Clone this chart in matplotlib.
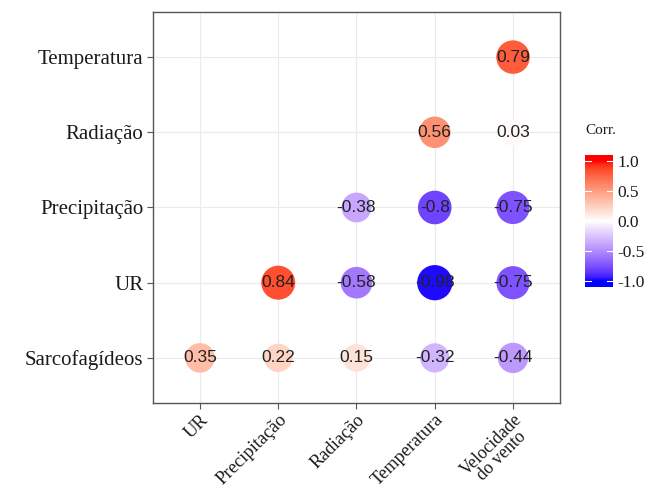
import numpy as np
import matplotlib
matplotlib.use("Agg")
import matplotlib.pyplot as plt
from matplotlib.colors import ListedColormap, Normalize

# Variables and lower-triangle correlation values
x_labels = ["UR", "Precipitação", "Radiação", "Temperatura", "Velocidade\ndo vento"]
y_labels = ["Sarcofagídeos", "UR", "Precipitação", "Radiação", "Temperatura"]

# corr_rows[i][j]: correlation for y_labels[i] vs x_labels[j] (None = not shown)
corr_rows = [
    [0.35, 0.22, 0.15, -0.32, -0.44],
    [None, 0.84, -0.58, -0.98, -0.75],
    [None, None, -0.38, -0.80, -0.75],
    [None, None, None, 0.56, 0.03],
    [None, None, None, None, 0.79],
]


def srgb_to_lab(rgb):
    rgb = np.asarray(rgb, float)
    lin = np.where(rgb <= 0.04045, rgb / 12.92, ((rgb + 0.055) / 1.055) ** 2.4)
    M = np.array([[0.4124, 0.3576, 0.1805],
                  [0.2126, 0.7152, 0.0722],
                  [0.0193, 0.1192, 0.9505]])
    xyz = M @ lin / np.array([0.95047, 1.0, 1.08883])
    f = np.where(xyz > 0.008856, np.cbrt(xyz), 7.787 * xyz + 16 / 116)
    return np.array([116 * f[1] - 16, 500 * (f[0] - f[1]), 200 * (f[1] - f[2])])


def lab_to_srgb(lab):
    L, a, b = lab
    fy = (L + 16) / 116
    fx = fy + a / 500
    fz = fy - b / 200
    f = np.array([fx, fy, fz])
    xyz = np.where(f ** 3 > 0.008856, f ** 3, (f - 16 / 116) / 7.787)
    xyz = xyz * np.array([0.95047, 1.0, 1.08883])
    Minv = np.array([[3.2406, -1.5372, -0.4986],
                     [-0.9689, 1.8758, 0.0415],
                     [0.0557, -0.2040, 1.0570]])
    lin = np.clip(Minv @ xyz, 0, 1)
    rgb = np.where(lin <= 0.0031308, 12.92 * lin, 1.055 * lin ** (1 / 2.4) - 0.055)
    return np.clip(rgb, 0, 1)


# Diverging blue-white-red gradient interpolated in Lab space
lab_blue = srgb_to_lab([0, 0, 1])
lab_white = srgb_to_lab([1, 1, 1])
lab_red = srgb_to_lab([1, 0, 0])
colors = []
for t in np.linspace(-1, 1, 256):
    if t < 0:
        lab = lab_white + (lab_blue - lab_white) * (-t)
    else:
        lab = lab_white + (lab_red - lab_white) * t
    colors.append(lab_to_srgb(lab))
cmap = ListedColormap(colors)
norm = Normalize(-1, 1)

serif = "Liberation Serif"
sans = "Liberation Sans"

fig = plt.figure(figsize=(6.5, 4.91), dpi=100)
ax = fig.add_axes([0.2354, 0.1792, 0.8615 - 0.2354, 0.9756 - 0.1792])

xs, ys, vals = [], [], []
for i, row in enumerate(corr_rows):
    for j, v in enumerate(row):
        if v is None:
            continue
        xs.append(j + 1)
        ys.append(i + 1)
        vals.append(v)
vals = np.array(vals)

# circle diameter (points) grows with |r|
diam = 19.0 + 6.5 * np.abs(vals)
ax.scatter(xs, ys, s=diam ** 2, c=vals, cmap=cmap, norm=norm,
           edgecolors="none", zorder=3)
for x, y, v in zip(xs, ys, vals):
    ax.text(x, y, f"{v:g}", ha="center", va="center", fontsize=12.5,
            family=sans, color="#222222", zorder=4)

ax.set_xlim(0.4, 5.6)
ax.set_ylim(0.4, 5.6)
ax.set_xticks(range(1, 6))
ax.set_yticks(range(1, 6))
ax.set_xticklabels(x_labels, rotation=45, ha="right", va="top",
                   rotation_mode="anchor", family=serif, fontsize=13.3,
                   multialignment="center", color="#1a1a1a",
                   linespacing=0.85)
ax.get_xticklabels()[-1].set_fontsize(12.8)
ax.set_yticklabels(y_labels, family=serif, fontsize=15, color="#1a1a1a")
ax.grid(True, color="#ebebeb", linewidth=0.8, zorder=0)
ax.set_axisbelow(True)
for sp in ax.spines.values():
    sp.set_color("#555555")
    sp.set_linewidth(1.0)
ax.tick_params(axis="both", length=4, color="#555555", width=0.8)
ax.tick_params(axis="x", pad=2)
ax.tick_params(axis="y", pad=3)

# Colour bar legend
cax = fig.add_axes([585 / 650, 1 - 287 / 491, 28 / 650, 132 / 491])
grad = np.linspace(-1.1, 1.1, 256).reshape(-1, 1)
cax.imshow(grad, aspect="auto", cmap=cmap, norm=norm, origin="lower",
           extent=[0, 1, -1.1, 1.1])
cax.set_xlim(0, 1)
cax.set_ylim(-1.1, 1.1)
cax.set_xticks([])
ticks = [-1.0, -0.5, 0.0, 0.5, 1.0]
cax.set_yticks(ticks)
cax.yaxis.tick_right()
cax.set_yticklabels([f"{t:.1f}" for t in ticks], family=serif, fontsize=12.5,
                    color="#1a1a1a")
cax.tick_params(axis="y", length=0, pad=3)
for t in ticks:
    cax.plot([0, 0.2], [t, t], color="white", lw=0.8)
    cax.plot([0.8, 1], [t, t], color="white", lw=0.8)
for sp in cax.spines.values():
    sp.set_visible(False)
fig.text(585 / 650, 1 - 131 / 491, "Corr.", family=serif, fontsize=11,
         ha="left", va="center", color="#1a1a1a")

fig.savefig("out.png", dpi=100, facecolor="white")
